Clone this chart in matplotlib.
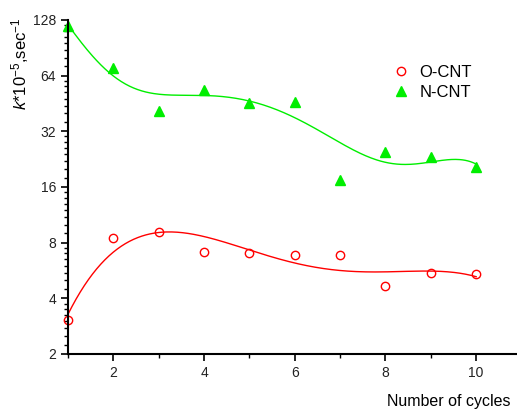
import numpy as np
import matplotlib
matplotlib.use("Agg")
import matplotlib.pyplot as plt
from matplotlib.ticker import FixedLocator, LogLocator, NullFormatter, FuncFormatter, MultipleLocator

plt.rcParams['font.family'] = ['Liberation Sans', 'DejaVu Sans']
plt.rcParams['mathtext.fontset'] = 'custom'
plt.rcParams['mathtext.rm'] = 'Liberation Sans'
plt.rcParams['mathtext.it'] = 'Liberation Sans:italic'

# datos
ciclos = [1, 2, 3, 4, 5, 6, 7, 8, 9, 10]
o_cnt = [3.04, 8.5, 9.1, 7.1, 7.0, 6.9, 6.85, 4.67, 5.47, 5.43]
n_cnt = [119, 70.7, 41.2, 53.6, 45.7, 46.2, 17.5, 24.7, 23.2, 20.6]
y_ticks = [2, 4, 8, 16, 32, 64, 128]
x_ticks = [2, 4, 6, 8, 10]

fig = plt.figure(figsize=(5.17, 4.11), dpi=100)
ax = fig.add_axes([0.1315, 0.1387, 0.8685, 0.8127])

# curvas de ajuste (polinomio)
xs = np.linspace(1, 10, 300)
p_o = np.polyfit(ciclos, np.log(o_cnt), 4)
p_n = np.polyfit(ciclos, n_cnt, 5)
ax.plot(xs, np.exp(np.polyval(p_o, xs)), color="red", lw=1)
ax.plot(xs, np.polyval(p_n, xs), color="#00ee00", lw=1)

ax.plot(ciclos, o_cnt, "o", mfc="none", mec="red", ms=6, mew=1, label="O-CNT", clip_on=False)
ax.plot(ciclos, n_cnt, "^", color="#00ee00", ms=7, label="N-CNT", clip_on=False)

ax.set_yscale("log", base=2)
ax.set_ylim(2, 128)
ax.set_xlim(1, 10.9)
ax.yaxis.set_major_locator(FixedLocator(y_ticks))
ax.yaxis.set_major_formatter(FuncFormatter(lambda v, p: f"{int(v)}"))
ax.yaxis.set_minor_locator(LogLocator(base=2, subs=np.arange(1.125, 2, 0.125)))
ax.yaxis.set_minor_formatter(NullFormatter())
ax.xaxis.set_major_locator(FixedLocator(x_ticks))
ax.xaxis.set_minor_locator(MultipleLocator(1))

for s in ["top", "right"]:
    ax.spines[s].set_visible(False)
for s in ["left", "bottom"]:
    ax.spines[s].set_linewidth(1.5)
ax.tick_params(which="major", length=5, width=1.2, labelsize=10, colors="black", labelcolor="#222222")
ax.tick_params(which="minor", length=3, width=1)

ax.set_ylabel(r"$k$*10$^{-5}$,sec$^{-1}$", fontsize=12)
ax.yaxis.set_label_coords(-0.083, 0.87)
ax.set_xlabel("Number of cycles", fontsize=11.5)
ax.xaxis.set_label_coords(0.985, -0.12)
ax.xaxis.label.set_horizontalalignment("right")

ax.legend(loc="upper left", bbox_to_anchor=(0.69, 0.91), frameon=False, fontsize=12,
          handlelength=1, handletextpad=0.6, labelspacing=0.3)

fig.savefig("out.png", dpi=100)
